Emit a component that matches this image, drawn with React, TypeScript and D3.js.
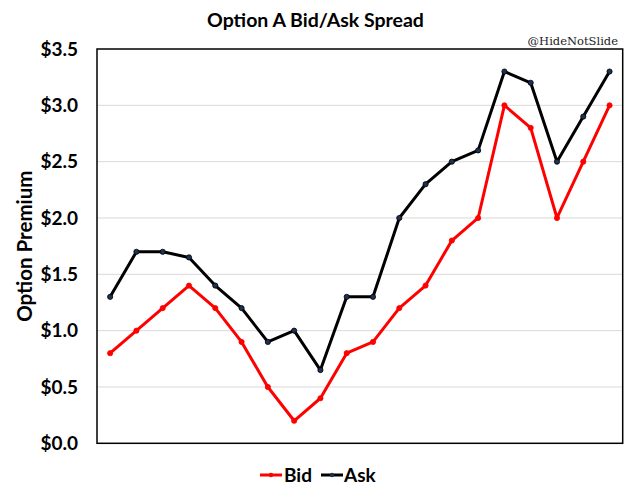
import React from "react";
import * as d3 from "d3";

const categories = d3.range(1, 21).map(String);
const bidValues = [0.8, 1.0, 1.2, 1.4, 1.2, 0.9, 0.5, 0.2, 0.4, 0.8, 0.9, 1.2, 1.4, 1.8, 2.0, 3.0, 2.8, 2.0, 2.5, 3.0];
const askValues = [1.3, 1.7, 1.7, 1.65, 1.4, 1.2, 0.9, 1.0, 0.65, 1.3, 1.3, 2.0, 2.3, 2.5, 2.6, 3.3, 3.2, 2.5, 2.9, 3.3];
const yTicks = [0, 0.5, 1.0, 1.5, 2.0, 2.5, 3.0, 3.5];

const W = 634, H = 495;
const M = { left: 97, top: 49, right: 622.7, bottom: 443.3 };
const FONT = "Lato, 'Open Sans', sans-serif";

export default function App() {
  const x = d3.scaleBand().domain(categories).range([M.left, M.right]);
  const y = d3.scaleLinear().domain([0, 3.5]).range([M.bottom, M.top]);
  const cx = (i: number) => (x(categories[i]) as number) + x.bandwidth() / 2;
  const line = d3.line<number>().x((_, i) => cx(i)).y((d) => y(d));
  const fmt = (v: number) => "$" + d3.format(".1f")(v);

  const series = [
    { name: "Bid", values: bidValues, color: "#ff0000", marker: "#ff0000", mstroke: "#ff0000" },
    { name: "Ask", values: askValues, color: "#000000", marker: "#1f3050", mstroke: "#000000" },
  ];

  return (
    <svg width={W} height={H} style={{ position: "absolute", left: 0, top: 0, background: "#fff" }}>
      <rect x={0} y={0} width={W} height={H} fill="#fff" />
      <text x={315.5} y={27} textAnchor="middle" fontFamily={FONT} fontWeight={700} fontSize={19.5} fill="#000">
        Option A Bid/Ask Spread
      </text>
      <text x={618} y={45} textAnchor="end" fontFamily="'DejaVu Serif', serif" fontSize={11.5} fill="#222">
        @HideNotSlide
      </text>
      {yTicks.map((t) => (
        <g key={t}>
          {t > 0 && t < 3.5 && (
            <line x1={M.left} x2={M.right} y1={y(t)} y2={y(t)} stroke="#d9d9d9" strokeWidth={1} />
          )}
          <text x={78} y={y(t)} dy="0.35em" textAnchor="end" fontFamily={FONT} fontWeight={700} fontSize={19} fill="#000">
            {fmt(t)}
          </text>
        </g>
      ))}
      <rect x={M.left} y={M.top} width={M.right - M.left} height={M.bottom - M.top} fill="none" stroke="#000" strokeWidth={1.5} />
      <text
        transform={`translate(32,${(M.top + M.bottom) / 2}) rotate(-90)`}
        textAnchor="middle"
        fontFamily={FONT}
        fontWeight={700}
        fontSize={20.5}
        fill="#000"
      >
        Option Premium
      </text>
      {series.map((s) => (
        <g key={s.name}>
          <path d={line(s.values) || ""} fill="none" stroke={s.color} strokeWidth={3} strokeLinejoin="round" />
          {s.values.map((v, i) => (
            <circle key={i} cx={cx(i)} cy={y(v)} r={2.6} fill={s.marker} stroke={s.mstroke} strokeWidth={0.8} />
          ))}
        </g>
      ))}
      <g>
        <line x1={260} x2={282} y1={475} y2={475} stroke="#ff0000" strokeWidth={3} />
        <circle cx={271} cy={475} r={2.2} fill="#ff0000" />
        <text x={284} y={475} dy="0.35em" fontFamily={FONT} fontWeight={700} fontSize={19} fill="#000">Bid</text>
        <line x1={321} x2={343} y1={475} y2={475} stroke="#000" strokeWidth={3} />
        <circle cx={332} cy={475} r={2.2} fill="#1f3050" />
        <text x={344} y={475} dy="0.35em" fontFamily={FONT} fontWeight={700} fontSize={19} fill="#000">Ask</text>
      </g>
    </svg>
  );
}
